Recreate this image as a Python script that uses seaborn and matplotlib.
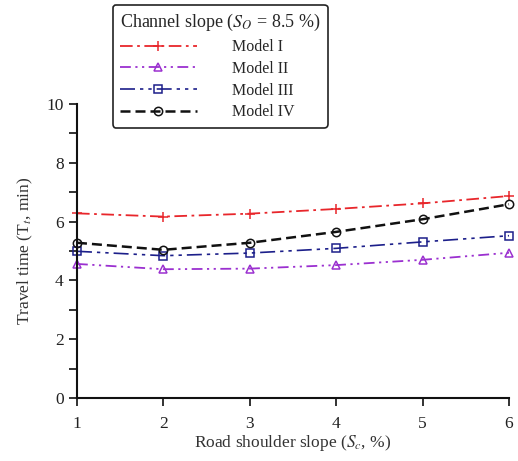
import matplotlib
matplotlib.use("Agg")
import matplotlib.pyplot as plt
import seaborn as sns
import pandas as pd
from matplotlib.ticker import MultipleLocator

# Road shoulder slope (%) and travel time (min) for each model
shoulder_slope = [1, 2, 3, 4, 5, 6]
model_i = [6.28, 6.17, 6.27, 6.43, 6.62, 6.87]
model_ii = [4.56, 4.38, 4.40, 4.52, 4.70, 4.94]
model_iii = [4.99, 4.84, 4.93, 5.09, 5.31, 5.52]
model_iv = [5.28, 5.04, 5.28, 5.65, 6.08, 6.59]
model_names = ["Model I", "Model II", "Model III", "Model IV"]

df = pd.DataFrame({
    "slope": shoulder_slope * 4,
    "time": model_i + model_ii + model_iii + model_iv,
    "model": sum([[m] * len(shoulder_slope) for m in model_names], []),
})

sns.set_style("ticks")
plt.rcParams["font.family"] = ["Liberation Serif", "DejaVu Serif"]
plt.rcParams["mathtext.fontset"] = "stix"

palette = {"Model I": "#e8262b", "Model II": "#9b30d0",
           "Model III": "#1c1f8a", "Model IV": "#111111"}
markers = {"Model I": "+", "Model II": "^", "Model III": "s", "Model IV": "o"}
dashes = {"Model I": (7, 2.5, 1.5, 2.5),
          "Model II": (6, 2.5, 1.2, 2.5, 1.2, 2.5),
          "Model III": (9, 3, 2, 3, 2, 3),
          "Model IV": (4, 2)}
widths = {"Model I": 1.3, "Model II": 1.3, "Model III": 1.2, "Model IV": 1.8}

fig = plt.figure(figsize=(5.18, 4.61), dpi=100)
ax = fig.add_axes([0.1486, 0.1367, 0.834, 0.6377])

sns.lineplot(data=df, x="slope", y="time", hue="model", style="model",
             palette=palette, markers=False, dashes=dashes,
             hue_order=model_names, style_order=model_names,
             linewidth=1.3, ax=ax, legend=True)


def dress(line, name):
    # hollow marker in the series colour
    line.set_marker(markers[name])
    line.set_markersize(7 if name == "Model I" else 6)
    line.set_markerfacecolor("none")
    line.set_markeredgecolor(palette[name])
    line.set_markeredgewidth(1.1)
    line.set_linewidth(widths[name])


for line, name in zip(ax.lines, model_names):
    dress(line, name)

leg = ax.get_legend()
handles = list(leg.legend_handles)
labels = [t.get_text() for t in leg.get_texts()]
leg.remove()
for h, name in zip(handles, labels):
    dress(h, name)

fig_leg = fig.legend(handles, labels,
                     title=r"Channel slope ($S_O$ = 8.5 %)",
                     loc="upper left", bbox_to_anchor=(0.218, 0.989),
                     borderaxespad=0,
                     frameon=True, fancybox=True, handlelength=4.8,
                     handletextpad=2.2, labelspacing=0.36,
                     fontsize=11.5, title_fontsize=13,
                     borderpad=0.45, alignment="left")
frame = fig_leg.get_frame()
frame.set_edgecolor("#222222")
frame.set_linewidth(1.2)
frame.set_facecolor("white")
frame.set_alpha(1)
fig_leg.set_zorder(10)

ax.set_xlim(1, 6)
ax.set_ylim(0, 10)
ax.xaxis.set_major_locator(MultipleLocator(1))
ax.yaxis.set_major_locator(MultipleLocator(2))
ax.yaxis.set_minor_locator(MultipleLocator(1))
ax.tick_params(axis="both", which="major", direction="out", length=6,
               width=1.3, labelsize=12.5, colors="#222222")
ax.tick_params(axis="x", which="major", pad=7)
ax.tick_params(axis="y", which="minor", direction="out", length=6, width=1.3,
               color="#222222")
for side in ("left", "bottom"):
    ax.spines[side].set_linewidth(1.5)
    ax.spines[side].set_color("#111111")
sns.despine(ax=ax)
for line in ax.lines:
    line.set_clip_on(False)

ax.set_xlabel(r"Road shoulder slope ($S_c$, %)", fontsize=12.5, labelpad=1,
              color="#333333")
ax.set_ylabel(r"Travel time (T$_t$, min)", fontsize=12.5, labelpad=8,
              color="#333333")

fig.savefig("out.png", dpi=100)
